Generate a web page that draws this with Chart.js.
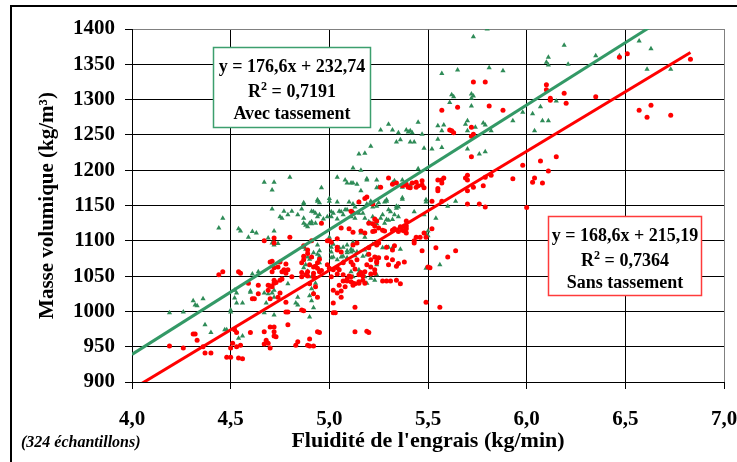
<!DOCTYPE html>
<html>
<head>
<meta charset="utf-8">
<script src="https://cdn.jsdelivr.net/npm/chart.js@4.4.1/dist/chart.umd.min.js"></script>
<style>
  html, body { margin: 0; padding: 0; background: #fff; }
  canvas { display: block; }
</style>
</head>
<body>
<canvas id="masseChart" width="737" height="462"></canvas>
<script>
// tick labels (French decimal comma)
const xTickLabels = ['4,0', '4,5', '5,0', '5,5', '6,0', '6,5', '7,0'];
const yTickLabels = ['900', '950', '1000', '1050', '1100', '1150', '1200', '1250', '1300', '1350', '1400'];

// regression lines shown on the chart
const avecFit = { slope: 176.6, intercept: 232.74, r2: '0,7191', xStart: 4.0, xEnd: 6.73 };
const sansFit = { slope: 168.6, intercept: 215.19, r2: '0,7364', xStart: 4.0, xEnd: 6.83 };

// Avec tassement (green triangles) [fluidité, masse volumique]
const avecTassement = [
  [5.80,1400],[5.73,1389],[6.19,1377],[6.11,1360],[6.10,1353],[6.11,1349],[6.21,1350],[6.35,1362],[6.47,1362],
  [6.57,1383],[6.63,1372],[6.61,1343],[6.73,1343],[5.57,1337],[5.65,1342],[5.81,1345],[5.88,1341],[5.62,1307],
  [5.63,1304],[5.72,1308],[5.73,1305],[5.72,1302],[5.61,1296],[5.72,1291],[6.15,1298],[6.07,1290],[5.98,1282],
  [6.03,1280],[5.93,1270],[6.08,1270],[6.11,1270],[6.04,1256],[5.55,1263],[5.58,1264],[5.57,1256],[5.69,1265],
  [5.70,1270],[5.70,1256],[5.74,1261],[5.78,1267],[5.79,1264],[5.82,1256],[5.47,1251],[5.55,1244],[5.52,1230],
  [5.57,1232],[5.48,1231],[5.70,1230],[5.76,1223],[5.79,1226],[5.30,1265],[5.26,1257],[5.32,1257],[5.35,1253],
  [5.39,1257],[5.40,1254],[5.41,1256],[5.42,1253],[5.45,1268],[5.34,1240],[5.36,1243],[5.41,1240],[5.43,1240],
  [5.21,1234],[5.15,1223],[5.18,1224],[5.12,1203],[5.16,1200],[4.80,1190],[4.67,1183],[4.72,1183],[4.71,1172],
  [4.96,1175],[5.04,1190],[5.08,1186],[5.09,1182],[5.11,1182],[5.12,1182],[5.19,1186],[5.24,1186],[5.16,1171],
  [5.45,1202],[5.14,1180],[5.24,1175],[5.32,1182],[5.33,1185],[5.37,1186],[5.37,1176],[5.41,1179],[5.49,1158],
  [5.37,1161],[5.49,1155],[5.54,1132],[5.60,1149],[5.64,1156],[5.49,1110],[5.50,1107],[5.49,1061],[5.56,1066],
  [4.87,1152],[4.94,1156],[4.95,1154],[5.00,1160],[5.00,1156],[5.04,1155],[5.10,1155],[5.12,1152],[5.15,1155],
  [5.19,1152],[5.22,1148],[5.24,1149],[5.25,1154],[5.29,1156],[5.29,1158],[5.34,1149],[5.35,1148],[5.37,1159],
  [4.71,1145],[4.77,1142],[4.81,1142],[4.86,1145],[4.91,1142],[4.95,1137],[5.01,1141],[5.05,1142],[5.08,1144],
  [4.75,1134],[4.76,1132],[4.79,1137],[4.84,1137],[4.87,1125],[4.88,1122],[4.90,1125],[4.91,1124],[4.93,1125],
  [4.94,1134],[4.97,1131],[4.99,1134],[5.01,1134],[5.04,1131],[5.07,1137],[5.11,1134],[5.12,1141],[5.13,1148],
  [5.15,1139],[5.18,1132],[5.20,1127],[5.22,1134],[5.24,1128],[5.26,1132],[5.27,1137],[5.29,1130],[5.32,1130],
  [5.33,1137],[5.34,1146],[5.35,1134],[5.43,1141],[5.48,1137],[5.21,1156],[5.28,1155],[5.30,1144],[5.31,1141],
  [5.30,1129],[5.28,1125],[5.21,1125],[5.19,1188],[5.25,1176],[4.94,1158],[4.87,1154],[4.92,1141],[4.93,1139],
  [4.87,1132],[4.89,1120],[4.91,1127],[5.02,1139],[5.06,1141],[5.09,1144],[5.13,1132],[5.17,1139],[5.24,1124],
  [5.00,1105],[5.00,1101],[5.02,1095],[5.09,1094],[5.11,1088],[5.22,1095],[4.89,1077],[4.90,1074],[4.94,1081],
  [4.95,1078],[4.88,1066],[4.89,1057],[4.91,1049],[4.93,1040],[4.91,1032],[4.92,1026],[5.02,1077],[5.04,1073],
  [5.07,1078],[5.09,1083],[5.12,1086],[5.14,1084],[5.18,1087],[5.17,1078],[5.19,1080],[5.24,1076],[5.24,1066],
  [5.24,1052],[5.23,1044],[5.21,1047],[4.54,1117],[4.55,1114],[4.46,1132],[4.44,1118],[4.61,1113],[4.63,1111],
  [4.59,1105],[4.69,1104],[4.72,1114],[4.71,1097],[4.72,1094],[4.74,1096],[4.87,1091],[4.88,1088],[4.94,1094],
  [4.95,1086],[5.01,1091],[5.05,1090],[5.07,1091],[5.09,1086],[5.11,1084],[5.12,1098],[5.14,1097],[5.16,1111],
  [5.18,1105],[5.24,1098],[5.27,1090],[5.29,1091],[5.30,1091],[5.32,1090],[5.36,1088],[5.50,1114],[4.92,1083],
  [4.91,1077],[4.95,1069],[4.93,1063],[4.87,1062],[5.01,1084],[5.01,1076],[5.06,1077],[5.07,1070],[5.09,1076],
  [5.13,1079],[5.15,1059],[5.15,1055],[5.18,1049],[5.19,1040],[5.11,1056],[5.12,1049],[4.61,1053],[4.64,1056],
  [4.52,1030],[4.53,1026],[4.60,1027],[4.67,1026],[4.69,1025],[4.71,1026],[4.72,1030],[4.68,1012],[4.72,1020],
  [4.79,1039],[4.84,1020],[4.83,1012],[4.84,1009],[4.90,1022],[4.91,1015],[4.92,1005],[4.90,992],[4.31,1015],
  [4.32,1009],[4.36,1018],[4.26,999],[4.19,998],[4.37,981],[4.40,970],[4.50,999],[4.50,1002],[4.52,1019],
  [4.56,1012],[4.53,1012],[4.54,962],[4.56,965],[4.48,974],[4.67,998],[4.72,995],[4.60,1029],[4.47,974],
  [4.33,1008]
];

// Sans tassement (red dots) [fluidité, masse volumique]
const sansTassement = [
  [6.83,1357],[6.51,1365],[6.47,1360],[5.73,1325],[5.79,1325],[6.10,1321],[6.10,1314],[6.19,1309],[6.12,1302],
  [6.12,1299],[6.20,1295],[6.35,1304],[6.57,1285],[6.63,1292],[6.61,1275],[6.73,1278],[5.57,1285],[5.65,1289],
  [5.81,1291],[5.88,1285],[5.61,1257],[5.62,1256],[5.63,1253],[5.72,1261],[5.73,1251],[5.72,1248],[5.72,1219],
  [6.07,1213],[6.15,1219],[5.98,1207],[6.11,1199],[5.93,1188],[6.03,1183],[6.04,1189],[6.08,1182],[5.47,1185],
  [5.48,1175],[5.55,1186],[5.57,1186],[5.58,1189],[5.57,1182],[5.55,1171],[5.69,1189],[5.70,1186],[5.70,1193],
  [5.70,1171],[5.73,1176],[5.78,1178],[5.79,1190],[5.82,1193],[6.00,1147],[5.30,1189],[5.26,1176],[5.34,1182],
  [5.39,1180],[5.42,1182],[5.45,1178],[5.40,1176],[5.44,1176],[5.55,1174],[5.19,1162],[5.32,1180],[5.37,1178],
  [5.38,1179],[5.41,1175],[5.44,1183],[5.47,1179],[5.49,1105],[5.54,1090],[5.60,1077],[5.64,1086],[5.50,1063],
  [5.51,1062],[5.49,1013],[5.56,1006],[5.52,1156],[5.57,1156],[5.70,1152],[5.76,1152],[5.79,1148],[5.15,1155],
  [5.11,1142],[5.12,1139],[5.24,1128],[5.23,1121],[5.20,1125],[5.39,1128],[5.39,1121],[5.33,1117],[5.35,1113],
  [5.37,1115],[5.38,1114],[5.39,1117],[5.10,1117],[5.16,1114],[5.06,1118],[5.23,1114],[4.96,1125],[4.80,1105],
  [4.72,1104],[4.67,1100],[4.87,1093],[5.00,1100],[5.04,1103],[5.04,1091],[5.12,1094],[5.14,1097],[5.20,1090],
  [5.24,1094],[5.25,1097],[5.29,1091],[5.32,1087],[5.33,1093],[5.43,1100],[5.46,1105],[5.22,1113],[5.27,1115],
  [5.28,1114],[5.32,1115],[5.36,1120],[5.38,1121],[5.39,1111],[5.44,1105],[5.48,1111],[5.52,1117],[5.43,1097],
  [5.47,1086],[5.18,1160],[5.22,1152],[5.12,1112],[5.18,1111],[5.22,1124],[5.23,1131],[5.25,1118],[4.99,1100],
  [5.01,1098],[4.91,1100],[4.89,1087],[4.87,1078],[4.87,1073],[4.90,1066],[4.92,1063],[4.94,1061],[4.94,1069],
  [4.89,1056],[4.92,1054],[4.95,1056],[4.89,1050],[4.92,1049],[4.93,1035],[4.92,1025],[4.94,1020],[4.90,1039],
  [4.88,1052],[4.86,1069],[4.99,1066],[5.00,1061],[5.02,1059],[5.05,1059],[5.07,1052],[5.11,1049],[5.09,1043],
  [5.12,1040],[5.12,1037],[5.15,1042],[5.17,1044],[5.15,1052],[5.18,1056],[5.21,1053],[5.23,1054],[5.19,1066],
  [5.12,1066],[5.14,1073],[5.11,1070],[5.07,1069],[5.04,1087],[5.06,1084],[5.21,1073],[5.20,1081],[5.24,1069],
  [5.25,1076],[5.02,1030],[5.04,1026],[5.06,1020],[5.03,998],[4.86,1002],[4.94,971],[4.95,970],[5.13,971],
  [5.19,972],[5.20,970],[4.90,951],[4.92,951],[4.71,1071],[4.74,1063],[4.78,1067],[4.77,1059],[4.81,1049],
  [4.89,1082],[4.91,1077],[4.95,1074],[4.96,1058],[4.93,1064],[4.86,1055],[4.86,1049],[5.04,1062],[5.01,1049],
  [5.04,1053],[5.07,1043],[5.09,1046],[5.10,1050],[5.13,1060],[5.16,1055],[5.17,1050],[5.21,1063],[5.23,1077],
  [5.24,1071],[5.11,1042],[5.13,1039],[5.15,1040],[5.18,1040],[5.05,1037],[5.06,1029],[5.08,1035],[5.27,1043],
  [5.29,1043],[5.31,1043],[5.34,1044],[5.36,1039],[5.30,1066],[5.34,1064],[5.35,1068],[5.23,1059],[5.32,1073],
  [5.29,1076],[5.38,1070],[4.69,1037],[4.72,1040],[4.71,1035],[4.73,1041],[4.64,1025],[4.62,1018],[4.76,1046],
  [4.71,1056],[4.72,1062],[4.44,1052],[4.46,1056],[4.54,1056],[4.55,1054],[4.59,1040],[4.87,1001],[4.78,999],
  [5.02,1012],[5.02,998],[5.13,1006],[4.79,981],[4.67,971],[4.70,978],[4.72,978],[4.72,971],[4.72,965],
  [4.73,964],[4.68,959],[4.67,954],[4.69,955],[4.70,948],[4.60,970],[4.83,952],[4.84,957],[4.31,968],
  [4.32,968],[4.33,959],[4.19,951],[4.26,948],[4.37,941],[4.40,941],[4.36,950],[4.52,974],[4.53,970],
  [4.50,948],[4.50,935],[4.48,935],[4.54,934],[4.56,933],[4.51,955],[4.55,952],[4.53,950],[4.72,1097],
  [4.70,1070],[4.75,1070],[4.76,1056],[4.79,1059],[4.78,1054],[4.75,1044],[4.72,1044],[4.70,1036],[4.69,1030],
  [4.64,1037],[4.74,1020],[4.70,1018],[4.78,1013],[4.75,1026],[4.79,999],[4.61,1018],[4.90,961],[4.89,952]
];

const GREEN = '#2e8b57';
const RED = '#ff0000';
const FONT = '"Liberation Serif", "Times New Roman", serif';

function toPoints(pairs) {
  return pairs.map(p => ({ x: p[0], y: p[1] }));
}
function fitLine(fit) {
  return [fit.xStart, fit.xEnd].map(x => ({ x: x, y: fit.slope * x + fit.intercept }));
}
function fr(n, d) {
  return n.toFixed(d).replace('.', ',');
}

// draws a centred line made of several font runs (for the R² superscript)
function richLine(ctx, parts, cx, baseline) {
  let total = 0;
  parts.forEach(p => {
    ctx.font = 'bold ' + p.size + 'px ' + FONT;
    p.w = ctx.measureText(p.t).width;
    total += p.w;
  });
  let x = cx - total / 2;
  ctx.textAlign = 'left';
  ctx.textBaseline = 'alphabetic';
  parts.forEach(p => {
    ctx.font = 'bold ' + p.size + 'px ' + FONT;
    ctx.fillText(p.t, x, baseline - (p.rise || 0));
    x += p.w;
  });
}

const boxes = [
  { fit: avecFit, label: 'Avec tassement', color: '#3c9f6e', x0: 4.41, x1: 5.205, y0: 1374, y1: 1261 },
  { fit: sansFit, label: 'Sans tassement', color: '#ff3b3b', x0: 6.11, x1: 6.885, y0: 1135, y1: 1023 }
];

const framePlugin = {
  id: 'frame',
  beforeDraw(chart) {
    const ctx = chart.ctx;
    ctx.save();
    ctx.fillStyle = '#fff';
    ctx.fillRect(0, 0, chart.width, chart.height);
    ctx.restore();
  },
  afterDraw(chart) {
    const ctx = chart.ctx;
    const xs = chart.scales.x, ys = chart.scales.y;
    ctx.save();
    // outer frame of the figure
    ctx.strokeStyle = '#000';
    ctx.lineWidth = 2;
    ctx.strokeRect(11, 6, 760, 500);

    boxes.forEach(b => {
      const l = Math.round(xs.getPixelForValue(b.x0)) + 0.5;
      const r = Math.round(xs.getPixelForValue(b.x1)) + 0.5;
      const t = Math.round(ys.getPixelForValue(b.y0)) + 0.5;
      const btm = Math.round(ys.getPixelForValue(b.y1)) + 0.5;
      ctx.fillStyle = '#fff';
      ctx.fillRect(l, t, r - l, btm - t);
      ctx.strokeStyle = b.color;
      ctx.lineWidth = 1.5;
      ctx.strokeRect(l, t, r - l, btm - t);
      const cx = (l + r) / 2;
      ctx.fillStyle = '#000';
      richLine(ctx, [{ t: 'y = ' + fr(b.fit.slope, 1) + 'x + ' + fr(b.fit.intercept, 2), size: 18 }], cx, t + 24);
      richLine(ctx, [{ t: 'R', size: 18 }, { t: '2', size: 12, rise: 7 }, { t: ' = ' + b.fit.r2, size: 18 }], cx, t + 49);
      richLine(ctx, [{ t: b.label, size: 18 }], cx, t + 71);
    });

    ctx.font = 'italic bold 16px ' + FONT;
    ctx.textAlign = 'left';
    ctx.textBaseline = 'middle';
    ctx.fillStyle = '#000';
    ctx.fillText('(324 échantillons)', 21, 443);
    ctx.restore();
  }
};

const ctx = document.getElementById('masseChart').getContext('2d');
new Chart(ctx, {
  type: 'scatter',
  data: {
    datasets: [
      {
        label: 'Avec tassement (droite)',
        type: 'line',
        data: fitLine(avecFit),
        borderColor: '#339966',
        borderWidth: 3,
        pointRadius: 0,
        fill: false,
        order: 0
      },
      {
        label: 'Sans tassement (droite)',
        type: 'line',
        data: fitLine(sansFit),
        borderColor: RED,
        borderWidth: 3,
        pointRadius: 0,
        fill: false,
        order: 0
      },
      {
        label: 'Sans tassement',
        data: toPoints(sansTassement),
        pointStyle: 'circle',
        pointRadius: 2.5,
        backgroundColor: RED,
        borderWidth: 0,
        order: 1
      },
      {
        label: 'Avec tassement',
        data: toPoints(avecTassement),
        pointStyle: 'triangle',
        pointRadius: 3,
        backgroundColor: GREEN,
        borderWidth: 0,
        order: 2
      }
    ]
  },
  options: {
    responsive: false,
    animation: false,
    layout: { padding: { top: 29, left: 14, right: 13, bottom: 0 } },
    plugins: {
      legend: { display: false },
      tooltip: { enabled: false }
    },
    scales: {
      x: {
        type: 'linear',
        min: 4,
        max: 7,
        ticks: {
          stepSize: 0.5,
          autoSkip: false,
          maxRotation: 0,
          padding: 18,
          color: '#000',
          font: { family: FONT, size: 21, weight: 'bold' },
          callback: (v, i) => xTickLabels[i]
        },
        grid: {
          color: c => (c.tick && c.tick.value === 7 ? '#808080' : '#000'),
          tickColor: '#000',
          tickLength: 7,
          lineWidth: 1
        },
        border: { color: '#000', width: 1 },
        title: {
          display: true,
          text: "Fluidité de l'engrais (kg/min)",
          color: '#000',
          font: { family: FONT, size: 22, weight: 'bold' },
          padding: { top: 0, bottom: 7 }
        },
        afterFit: s => { s.height = 80; s.paddingLeft = 0; s.paddingRight = 0; }
      },
      y: {
        min: 900,
        max: 1400,
        ticks: {
          stepSize: 50,
          padding: 10,
          color: '#000',
          font: { family: FONT, size: 21, weight: 'bold' },
          callback: (v, i) => yTickLabels[i]
        },
        grid: {
          color: c => (c.tick && c.tick.value === 1400 ? '#808080' : '#000'),
          tickColor: '#000',
          tickLength: 7,
          lineWidth: 1
        },
        border: { color: '#000', width: 1 },
        title: {
          display: true,
          text: 'Masse volumique (kg/m³)',
          color: '#000',
          font: { family: FONT, size: 21, weight: 'bold' },
          padding: { top: 21, bottom: 0 }
        },
        afterFit: s => { s.width = 118; s.paddingTop = 0; s.paddingBottom = 0; }
      }
    }
  },
  plugins: [framePlugin]
});
</script>
</body>
</html>
